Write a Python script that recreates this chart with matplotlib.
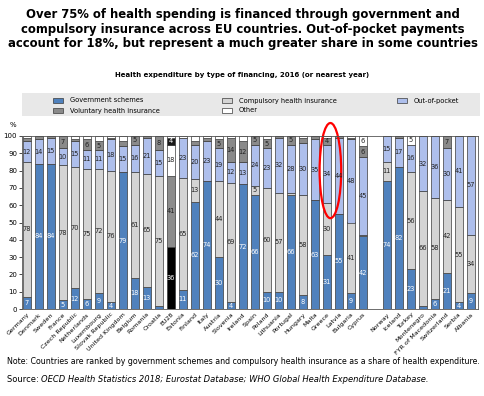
import matplotlib

matplotlib.use("Agg")

import matplotlib.pyplot as plt
from matplotlib.patches import Ellipse, Rectangle

countries = [
    "Germany", "Denmark", "Sweden", "France", "Czech Republic", "Netherlands",
    "Luxembourg", "Slovak Republic", "United Kingdom", "Belgium", "Romania",
    "Croatia", "EU28", "Estonia", "Finland", "Italy", "Austria", "Slovenia",
    "Ireland", "Spain", "Poland", "Lithuania", "Portugal", "Hungary", "Malta",
    "Greece", "Latvia", "Bulgaria", "Cyprus",
    "Norway", "Iceland", "Turkey", "Montenegro", "FYR of Macedonia",
    "Switzerland", "Serbia", "Albania",
]
gov = [7, 84, 84, 5, 12, 6, 9, 4, 79, 18, 13, 2, 36, 11, 62, 74, 30, 4, 72, 66,
       10, 10, 66, 8, 63, 31, 55, 9, 42,
       74, 82, 23, 2, 6, 21, 4, 9]
compulsory = [78, 0, 0, 78, 70, 75, 72, 76, 0, 61, 65, 75, 41, 65, 13, 0, 44, 69, 0, 5,
              60, 57, 1, 58, 0, 30, 0, 41, 1,
              11, 0, 56, 66, 58, 42, 55, 34]
out_of_pocket = [12, 14, 15, 10, 15, 11, 11, 18, 15, 16, 21, 15, 18, 23, 20, 23, 19, 12, 13, 24,
                 23, 32, 28, 30, 35, 34, 44, 48, 45,
                 15, 17, 16, 32, 36, 30, 41, 57]
voluntary = [2, 2, 1, 7, 1, 6, 5, 1, 3, 5, 1, 8, 4, 0, 2, 2, 5, 14, 12, 5,
             5, 1, 5, 3, 2, 4, 1, 1, 6,
             0, 1, 0, 0, 0, 7, 0, 0]
other = [1, 0, 0, 0, 2, 2, 3, 1, 3, 0, 0, 0, 1, 1, 3, 1, 2, 1, 3, 0,
         2, 0, 0, 1, 0, 1, 0, 1, 6,
         0, 0, 5, 0, 0, 0, 0, 0]
n_eu = 29  # EU members + EU28, a gap follows

W, H = 485, 396


def fx(px):
    return px / W


def fy(py):
    return 1 - py / H


fig = plt.figure(figsize=(W / 100, H / 100), dpi=100)
ax = fig.add_axes([fx(22), fy(309), fx(478) - fx(22), fy(136) - fy(309)])

positions = [i if i < n_eu else i + 1 for i in range(len(countries))]

series = [
    ("Government schemes", gov, "#4f81bd", "#000000"),
    ("Compulsory health insurance", compulsory, "#d4d4d4", "#8c8c8c"),
    ("Out-of-pocket", out_of_pocket, "#aebfec", "#ffffff"),
    ("Voluntary health insurance", voluntary, "#8a8a8a", "#1a1a1a"),
    ("Other", other, "#ffffff", "#ffffff"),
]

bottoms = [0] * len(countries)
for name, values, color, eu_color in series:
    colors = [eu_color if c == "EU28" else color for c in countries]
    ax.bar(positions, values, bottom=bottoms, width=0.7, color=colors,
           edgecolor="#3a3a3a", linewidth=0.5)
    for pos, val, bot, col, country in zip(positions, values, bottoms, colors, countries):
        if val >= 4:
            dark_fill = col in ("#4f81bd", "#000000", "#1a1a1a")
            ax.text(pos, bot + val / 2, str(val), ha="center", va="center",
                    fontsize=4.8, color="white" if dark_fill else "#222222")
    bottoms = [b + v for b, v in zip(bottoms, values)]

greece = positions[countries.index("Greece")]
ax.add_patch(Ellipse((greece + 0.3, 80), width=1.8, height=55, fill=False,
                     edgecolor="red", linewidth=1.6, clip_on=False))

ax.set_xlim(-0.4, positions[-1] + 0.6)
ax.set_ylim(0, 100)
ax.set_yticks(range(0, 101, 10))
ax.tick_params(axis="y", labelsize=5, length=2, width=0.5, pad=1.5)
ax.set_xticks(positions, countries, rotation=45, ha="right", rotation_mode="anchor")
ax.tick_params(axis="x", labelsize=4.6, length=0, pad=2)
for spine in ax.spines.values():
    spine.set_color("#555555")
    spine.set_linewidth(0.6)
fig.text(fx(13), fy(125), "%", ha="center", va="center", fontsize=5)

fig.text(0.5, fy(29),
         "Over 75% of health spending is financed through government and\n"
         "compulsory insurance across EU countries. Out-of-pocket payments\n"
         "account for 18%, but represent a much greater share in some countries",
         ha="center", va="center", fontsize=8.4, fontweight="bold", linespacing=1.18)
fig.text(0.5, fy(75), "Health expenditure by type of financing, 2016 (or nearest year)",
         ha="center", va="center", fontsize=5, fontweight="bold")

# legend drawn by hand to match the grey banner
fig.patches.append(Rectangle((fx(22), fy(116)), fx(480) - fx(22), fy(93) - fy(116),
                             transform=fig.transFigure, facecolor="#e8e8e8",
                             edgecolor="none", zorder=0))
legend_slots = {
    "Government schemes": (53, 100.5),
    "Compulsory health insurance": (222, 100.5),
    "Out-of-pocket": (397, 100.5),
    "Voluntary health insurance": (53, 110.5),
    "Other": (222, 110.5),
}
for name, values, color, eu_color in series:
    x, y = legend_slots[name]
    fig.patches.append(Rectangle((fx(x), fy(y + 2.5)), fx(10), fy(0) - fy(5),
                                 transform=fig.transFigure, facecolor=color,
                                 edgecolor="#3a3a3a", linewidth=0.5))
    fig.text(fx(x + 17), fy(y), name, ha="left", va="center", fontsize=4.8)

fig.text(fx(7), fy(362),
         "Note: Countries are ranked by government schemes and compulsory health "
         "insurance as a share of health expenditure.",
         ha="left", va="center", fontsize=5.7)
src = fig.text(fx(7), fy(380), "Source: ", ha="left", va="center", fontsize=6.0)
renderer = fig.canvas.get_renderer()
src_end = src.get_window_extent(renderer).x1 / fig.bbox.width
fig.text(src_end, fy(380),
         "OECD Health Statistics 2018; Eurostat Database; WHO Global Health Expenditure Database.",
         ha="left", va="center", fontsize=6.0, style="italic")

fig.savefig("out.png", dpi=100)
plt.close(fig)
